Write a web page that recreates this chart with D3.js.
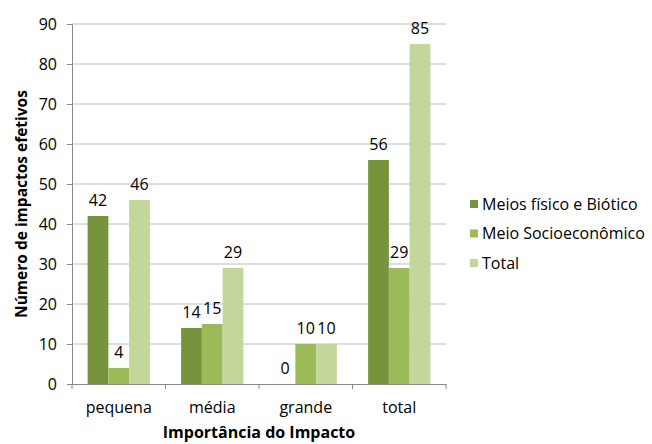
<!DOCTYPE html>
<html>
<head>
<meta charset="utf-8">
<script src="https://cdn.jsdelivr.net/npm/d3@7"></script>
<style>
  body { margin: 0; background: #fff; }
  svg text { font-family: "Open Sans", "Liberation Sans", sans-serif; fill: #000; }
</style>
</head>
<body>
<div id="chart"></div>
<script>
// data
var categories = ["pequena", "média", "grande", "total"];
var seriesNames = ["Meios físico e Biótico", "Meio Socioeconômico", "Total"];
var fisicoBiotico = [42, 14, 0, 56];
var socioeconomico = [4, 15, 10, 29];
var totalValues = [46, 29, 10, 85];
var yTicks = [0, 10, 20, 30, 40, 50, 60, 70, 80, 90];

var seriesValues = [fisicoBiotico, socioeconomico, totalValues];
var colors = ["#77933C", "#9BBB59", "#C3D69B"];

var width = 652, height = 444;
var margin = {left: 72, right: 206, top: 24, bottom: 60};

var svg = d3.select("#chart").append("svg")
    .attr("width", width)
    .attr("height", height);

var x = d3.scaleBand()
    .domain(categories)
    .range([margin.left, width - margin.right])
    .paddingInner(0)
    .paddingOuter(0);

var x1 = d3.scaleBand()
    .domain(d3.range(seriesNames.length))
    .range([x.bandwidth() * 0.167, x.bandwidth() * 0.833]);

var y = d3.scaleLinear()
    .domain([0, 90])
    .range([height - margin.bottom, margin.top]);

// gridlines
svg.append("g")
    .selectAll("line")
    .data(yTicks.slice(1))
    .enter().append("line")
    .attr("x1", margin.left)
    .attr("x2", width - margin.right)
    .attr("y1", function(d) { return y(d); })
    .attr("y2", function(d) { return y(d); })
    .attr("stroke", "#BEBEBE")
    .attr("stroke-width", 1);

// y axis
var yAxis = svg.append("g")
    .attr("transform", "translate(" + margin.left + ",0)")
    .call(d3.axisLeft(y).tickValues(yTicks).tickSize(5).tickPadding(10));
yAxis.select(".domain").attr("stroke", "#888");
yAxis.selectAll(".tick line").attr("stroke", "#888");
yAxis.selectAll(".tick text").style("font-size", "16px");

// bars
var groups = svg.append("g")
    .selectAll("g")
    .data(categories)
    .enter().append("g")
    .attr("transform", function(d) { return "translate(" + x(d) + ",0)"; });

groups.selectAll("rect")
    .data(function(d, i) {
        return seriesValues.map(function(s, j) { return {series: j, value: s[i]}; });
    })
    .enter().append("rect")
    .attr("x", function(d) { return x1(d.series); })
    .attr("width", x1.bandwidth())
    .attr("y", function(d) { return y(d.value); })
    .attr("height", function(d) { return y(0) - y(d.value); })
    .attr("fill", function(d) { return colors[d.series]; });

// data labels
groups.selectAll("text")
    .data(function(d, i) {
        return seriesValues.map(function(s, j) { return {series: j, value: s[i]}; });
    })
    .enter().append("text")
    .attr("x", function(d) { return x1(d.series) + x1.bandwidth() / 2; })
    .attr("y", function(d) { return y(d.value) - 10; })
    .attr("text-anchor", "middle")
    .style("font-size", "16px")
    .text(function(d) { return d.value; });

// x axis
var xAxis = svg.append("g")
    .attr("transform", "translate(0," + y(0) + ")")
    .call(d3.axisBottom(x).tickSize(0).tickPadding(18));
xAxis.select(".domain").attr("stroke", "#888");
xAxis.selectAll(".tick text").style("font-size", "16px");

// category separator ticks
svg.append("g")
    .selectAll("line")
    .data(categories.concat(["end"]))
    .enter().append("line")
    .attr("x1", function(d, i) { return margin.left + i * x.step(); })
    .attr("x2", function(d, i) { return margin.left + i * x.step(); })
    .attr("y1", y(0))
    .attr("y2", y(0) + 5)
    .attr("stroke", "#888");

// axis titles
svg.append("text")
    .attr("x", (margin.left + width - margin.right) / 2)
    .attr("y", 438)
    .attr("text-anchor", "middle")
    .style("font-size", "16px")
    .style("font-weight", "bold")
    .text("Importância do Impacto");

svg.append("text")
    .attr("transform", "translate(27," + y(45) + ") rotate(-90)")
    .attr("text-anchor", "middle")
    .style("font-size", "15.5px")
    .style("font-weight", "bold")
    .text("Número de impactos efetivos");

// legend
var legend = svg.append("g")
    .selectAll("g")
    .data(seriesNames)
    .enter().append("g")
    .attr("transform", function(d, i) { return "translate(470," + (204 + i * 29.5) + ")"; });

legend.append("rect")
    .attr("x", 0)
    .attr("y", -4)
    .attr("width", 8)
    .attr("height", 8)
    .attr("fill", function(d, i) { return colors[i]; });

legend.append("text")
    .attr("x", 12)
    .attr("y", 0)
    .attr("dy", "0.35em")
    .style("font-size", "16px")
    .text(function(d) { return d; });
</script>
</body>
</html>
